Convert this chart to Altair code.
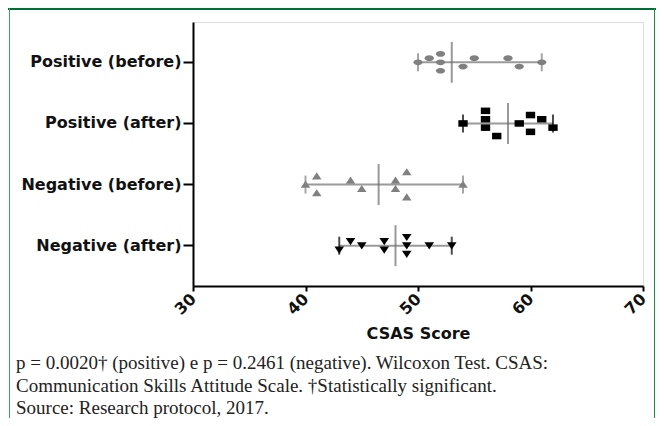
import altair as alt
import pandas as pd

# ---- data ----
groups = ["Positive (before)", "Positive (after)", "Negative (before)", "Negative (after)"]

pos_before = [50, 51, 52, 52, 52, 54, 55, 58, 59, 61]
pos_before_slot = [0, 1, 2, 0, -2, -1, 1, 1, -1, 0]
pos_after = [54, 56, 56, 56, 57, 59, 60, 60, 61, 62]
pos_after_slot = [0, 3, 1, -1, -3, 0, 2, -2, 1, -1]
neg_before = [40, 41, 41, 44, 45, 48, 48, 49, 49, 54]
neg_before_slot = [0, 2, -2, 1, -1, 1, -1, 3, -3, 0]
neg_after = [43, 44, 45, 47, 47, 49, 49, 49, 51, 53]
neg_after_slot = [-1, 1, 0, 1, -1, 2, 0, -2, 0, 0]

x_ticks = [30, 40, 50, 60, 70]
x_title = "CSAS Score"
caption = [
    "p = 0.0020\u2020 (positive) e p = 0.2461 (negative). Wilcoxon Test. CSAS:",
    "Communication Skills Attitude Scale. \u2020Statistically significant.",
    "Source: Research protocol, 2017.",
]

# ---- build table ----
rows = []
for g, vals, slots in zip(groups,
                          [pos_before, pos_after, neg_before, neg_after],
                          [pos_before_slot, pos_after_slot, neg_before_slot, neg_after_slot]):
    for v, s in zip(vals, slots):
        rows.append({"group": g, "score": v, "slot": s})
df = pd.DataFrame(rows)

# ---- styles ----
ellipse = "M-1,0 A1,0.62 0 1,1 1,0 A1,0.62 0 1,1 -1,0 Z"
rect = "M-1,-0.7 L1,-0.7 L1,0.7 L-1,0.7 Z"
tri_up = "M-1,0.7 L1,0.7 L0,-0.8 Z"
tri_down = "M-1,-0.7 L1,-0.7 L0,0.8 Z"
shapes = [ellipse, rect, tri_up, tri_down]
colors = ["#808080", "#000000", "#808080", "#000000"]
sizes = [85, 92, 76, 76]

W, H = 450, 264
PAD_L, PAD_T = 185, 14
TOT_W, TOT_H = 648, 410
P_OUT = 0.16
STEP = H / (len(groups) + 2 * P_OUT)
HALF = STEP / 2
SLOT_PX = 4.2

y_enc = alt.Y("group:N", sort=groups,
              scale=alt.Scale(domain=groups, paddingInner=0, paddingOuter=P_OUT),
              axis=alt.Axis(title=None, labelFont="DejaVu Sans", labelFontWeight="bold",
                            labelFontSize=16, labelColor="#111", labelPadding=2,
                            tickSize=10, tickWidth=2, tickColor="#000",
                            domainWidth=2, domainColor="#000", grid=False))
x_scale = alt.Scale(domain=[30, 70], nice=False, zero=False)
x_axis = alt.Axis(values=x_ticks, title=x_title, labelAngle=-45, labelAlign="right",
                  labelBaseline="middle", labelFont="DejaVu Sans", labelFontWeight="bold",
                  labelFontSize=16, labelColor="#111", labelPadding=5,
                  tickSize=5, tickWidth=2, tickColor="#000", domainWidth=2, domainColor="#000",
                  titleFont="DejaVu Sans", titleFontWeight="bold", titleFontSize=16,
                  titleColor="#111", titleY=47, titleBaseline="middle", grid=False)

base = alt.Chart(df)

summary = base.transform_aggregate(
    lo="min(score)", hi="max(score)", med="median(score)", groupby=["group"]
)

range_line = summary.mark_rule(color="#9a9a9a", strokeWidth=2).encode(
    x=alt.X("lo:Q", scale=x_scale, axis=x_axis), x2="hi:Q", y=y_enc)

grp_color = alt.Color("group:N", scale=alt.Scale(domain=groups, range=colors), legend=None)

cap_lo = summary.mark_tick(size=18, thickness=2).encode(
    x=alt.X("lo:Q", scale=x_scale), y=y_enc, color=grp_color)
cap_hi = summary.mark_tick(size=18, thickness=2).encode(
    x=alt.X("hi:Q", scale=x_scale), y=y_enc, color=grp_color)
median = summary.mark_tick(size=41, thickness=2, color="#6e6e6e").encode(
    x=alt.X("med:Q", scale=x_scale), y=y_enc)

points = base.mark_point(filled=True, opacity=1, strokeWidth=0).encode(
    x=alt.X("score:Q", scale=x_scale),
    y=y_enc,
    yOffset=alt.YOffset("slot:Q", scale=alt.Scale(domain=[-3, 3],
                                                   range=[HALF + 3 * SLOT_PX, HALF - 3 * SLOT_PX])),
    shape=alt.Shape("group:N", scale=alt.Scale(domain=groups, range=shapes), legend=None),
    color=grp_color,
    size=alt.Size("group:N", scale=alt.Scale(domain=groups, range=sizes), legend=None),
)

# ---- frame decoration ----
one = alt.Chart(pd.DataFrame({"k": [0]}))
green_bar = one.mark_rect(color="#006f35").encode(
    x=alt.value(-PAD_L), x2=alt.value(TOT_W - PAD_L), y=alt.value(-PAD_T), y2=alt.value(-PAD_T + 2))
left_border = one.mark_rect(color="#3f9e62").encode(
    x=alt.value(-PAD_L + 1), x2=alt.value(-PAD_L + 2), y=alt.value(-PAD_T), y2=alt.value(TOT_H - PAD_T))
right_border = one.mark_rect(color="#1f8a45").encode(
    x=alt.value(TOT_W - PAD_L - 2), x2=alt.value(TOT_W - PAD_L - 1), y=alt.value(-PAD_T), y2=alt.value(TOT_H - PAD_T))

cap_df = pd.DataFrame({"text": ["\n".join(caption)]})
caption_text = alt.Chart(cap_df).mark_text(
    align="left", baseline="alphabetic", font="Liberation Serif", fontSize=19,
    lineBreak="\n", lineHeight=22.5, color="#222"
).encode(
    x=alt.value(-177),
    y=alt.value(347),
    text="text:N",
)

chart = alt.layer(
    green_bar, left_border, right_border,
    range_line, cap_lo, cap_hi, median, points, caption_text
).properties(
    width=W, height=H,
    padding={"left": PAD_L, "top": PAD_T, "right": TOT_W - PAD_L - W, "bottom": TOT_H - PAD_T - H},
    autosize=alt.AutoSizeParams(type="none"),
).configure_view(stroke=None).configure(background="white")

chart.save("out.html", embed_options={"renderer": "svg", "actions": False})
